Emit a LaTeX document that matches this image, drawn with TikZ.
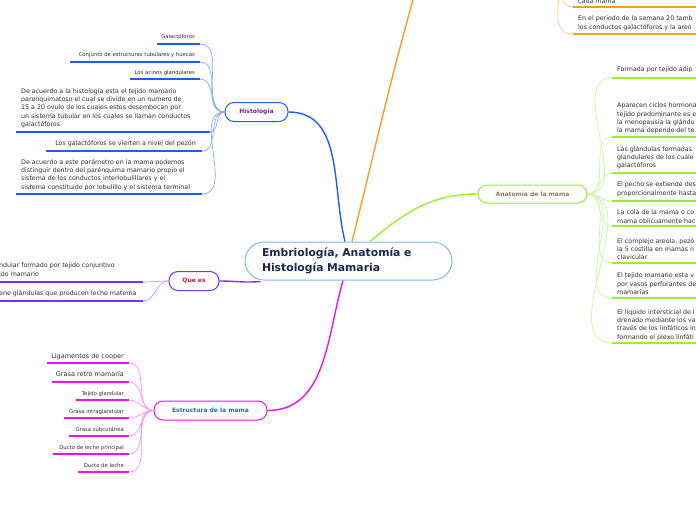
\documentclass[tikz,border=0pt]{standalone}
\usepackage{fontspec}
\setmainfont{DejaVu Sans}
\definecolor{hblue}{HTML}{1F5BFF}
\definecolor{hblueL}{HTML}{86A8FF}
\definecolor{qpur}{HTML}{7B2FFF}
\definecolor{qpurL}{HTML}{B996FF}
\definecolor{emag}{HTML}{EE11EE}
\definecolor{emagL}{HTML}{F590F5}
\definecolor{alime}{HTML}{99EE33}
\definecolor{alimeL}{HTML}{C8F7A0}
\definecolor{oor}{HTML}{FF9A22}
\definecolor{oorL}{HTML}{FFCB88}
\definecolor{cbord}{HTML}{7FBBE6}
\definecolor{ctext}{HTML}{1A2850}
\definecolor{leafc}{HTML}{2E2E2E}
\definecolor{histc}{HTML}{6A2A8F}
\definecolor{quec}{HTML}{CC1444}
\definecolor{estc}{HTML}{1A72B0}
\definecolor{anac}{HTML}{8F7A4E}
\tikzset{
 leaf/.style={inner sep=0pt, text=leafc, font=\fontsize{6.3}{8.3}\selectfont, align=left},
 leafb/.style={inner sep=0pt, text=leafc, font=\fontsize{6.5}{8}\selectfont},
 small/.style={inner sep=0pt, text=leafc, font=\fontsize{5.3}{6}\selectfont},
 topic/.style={draw, rounded corners=9pt, line width=1pt, fill=white, font=\fontsize{6}{7}\selectfont\bfseries, inner sep=0pt},
 ul/.style={line width=1.6pt},
 sub/.style={line width=0.7pt},
 mainc/.style={line width=1.4pt},
}
\begin{document}
\begin{tikzpicture}[x=1pt,y=-1pt]
\useasboundingbox (0,0) rectangle (696,520);
\clip (0,0) rectangle (696,520);

% ---------- central node
\node[draw=cbord, line width=1pt, fill=white, rounded corners=19pt, text width=173pt, inner xsep=17pt, inner ysep=0pt, minimum height=38pt, align=left, text=ctext, font=\fontsize{10.8}{15}\selectfont\bfseries] (c) at (348.5,261) {Embriología, Anatomía e\\Histología Mamaria};

% ---------- topic nodes
\node[topic, draw=hblue, text=histc, minimum width=63pt, minimum height=19pt] (hist) at (256.5,112) {Histología};
\node[topic, draw=qpur, text=quec, minimum width=50pt, minimum height=19pt] (que) at (194,281) {Que es};
\node[topic, draw=emag, text=estc, minimum width=113pt, minimum height=19pt] (est) at (210.5,410.5) {Estructura de la mama};
\node[topic, draw=alime, text=anac, minimum width=109pt, minimum height=18pt] (ana) at (532.5,194) {Anatomía de la mama};
\coordinate (orm) at (420,-25);
\coordinate (orp) at (560,-30);

% ---------- main connectors
\draw[mainc, hblue] ([xshift=-3.5pt]c.north) to[out=104,in=0] (hist.east);
\draw[mainc, oor] ([xshift=3.5pt]c.north) to[out=76,in=-106] (orm);
\draw[mainc, alime] ([xshift=21.5pt]c.north) to[out=40,in=180] (ana.west);
\draw[mainc, emag] ([xshift=-5.5pt]c.south) to[out=-106,in=0] (est.east);
\draw[mainc, qpur] ([xshift=-88pt,yshift=-1pt]c.south) to[out=185,in=0] (que.east);

% ---------- Histologia leaves
\node[small, anchor=base east] (h1t) at (195,38.7) {Galactóforos};
\coordinate (h1s) at (157,44); \coordinate (h1) at (200,44);
\node[small, anchor=base east] (h2t) at (195,56.7) {Conjunto de estructuras tubulares y huecas};
\coordinate (h2s) at (70,62); \coordinate (h2) at (200,62);
\node[small, anchor=base east] (h3t) at (195,74.7) {Los acinos glandúlares};
\coordinate (h3s) at (130,79); \coordinate (h3) at (200,79);
\node[leaf, anchor=north west] (h4t) at (21,88) {De acuerdo a la histología esta el tejido mamario\\parenquimatoso el cual se divide en un numero de\\15 a 20 ovulo de los cuales estos desembocan por\\un sistema tubular en los cuales se llaman conductos\\galactóforos};
\coordinate (h4s) at (16,132); \coordinate (h4) at (210,132);
\node[leaf, anchor=base east] (h5t) at (196,145.5) {Los galactóforos se vierten a nivel del pezón};
\coordinate (h5s) at (46,151); \coordinate (h5) at (202,151);
\node[leaf, anchor=north west] (h6t) at (21,159) {De acuerdo a este parámetro en la mama podemos\\distinguir dentro del parénquima mamario propio el\\sistema de los conductos interlobulillares y el\\sistema constituido por lobulillo y el sistema terminal};
\coordinate (h6s) at (16,194); \coordinate (h6) at (202,194);
\foreach \i in {1,...,6}{
  \draw[ul, hblue] (h\i s) -- (h\i);
  \draw[sub, hblueL] (hist.west) to[out=180,in=0] (h\i);
}

% ---------- Que es leaves
\node[leaf, anchor=north west] (q1t) at (-1,263) {ndular formado por tejido conjuntivo\\ido mamario};
\coordinate (q1s) at (0,282); \coordinate (q1) at (143,282);
\node[leaf, anchor=base west] (q2t) at (-1,295) {ene glándulas que producen leche materna};
\coordinate (q2s) at (0,301); \coordinate (q2) at (143,301);
\foreach \i in {1,2}{
  \draw[ul, qpur] (q\i s) -- (q\i);
  \draw[sub, qpurL] (que.west) to[out=180,in=0] (q\i);
}

% ---------- Estructura leaves
\node[leafb, anchor=base east] (e1t) at (124,358) {Ligamentos de cooper};
\coordinate (e1s) at (47,363); \coordinate (e1) at (129,363);
\node[leafb, anchor=base east] (e2t) at (124,376.5) {Grasa retro mamaría};
\coordinate (e2s) at (52,382); \coordinate (e2) at (129,382);
\node[small, anchor=base east] (e3t) at (124,395.5) {Tejido glandular};
\coordinate (e3s) at (76,400); \coordinate (e3) at (129,400);
\node[small, anchor=base east] (e4t) at (124,413.5) {Grasa intraglandular};
\coordinate (e4s) at (64,418); \coordinate (e4) at (129,418);
\node[small, anchor=base east] (e5t) at (124,431.5) {Grasa subcutánea};
\coordinate (e5s) at (69,436); \coordinate (e5) at (129,436);
\node[small, anchor=base east] (e6t) at (124,449.5) {Ducto de leche principal};
\coordinate (e6s) at (53,454); \coordinate (e6) at (129,454);
\node[small, anchor=base east] (e7t) at (124,467.5) {Ducto de leche};
\coordinate (e7s) at (78,472); \coordinate (e7) at (129,472);
\foreach \i in {1,...,7}{
  \draw[ul, emag] (e\i s) -- (e\i);
  \draw[sub, emagL] (est.west) to[out=180,in=0] (e\i);
}

% ---------- Anatomia leaves
\node[leaf, anchor=north west] (a1t) at (617,67) {Formada por tejido adip};
\coordinate (a1) at (612,78); \coordinate (a1e) at (700,78);
\node[leaf, anchor=north west] (a2t) at (617,103) {Aparecen ciclos hormona\\tejido predominante es e\\la menopausia la glándu\\la mama depende del te};
\coordinate (a2) at (612,137); \coordinate (a2e) at (700,137);
\node[leaf, anchor=north west] (a3t) at (617,146) {Las glándulas formadas\\glandulares de los cuale\\galactóforos};
\coordinate (a3) at (612,173); \coordinate (a3e) at (700,173);
\node[leaf, anchor=north west] (a4t) at (617,182) {El pecho se extiende des\\proporcionalmente hasta};
\coordinate (a4) at (612,201); \coordinate (a4e) at (700,201);
\node[leaf, anchor=north west] (a5t) at (617,210) {La cola de la mama o co\\mama oblicuamente hac};
\coordinate (a5) at (612,226); \coordinate (a5e) at (700,226);
\node[leaf, anchor=north west] (a6t) at (617,238) {El complejo areola, pezó\\la 5 costilla en mamas n\\clavicular};
\coordinate (a6) at (612,263); \coordinate (a6e) at (700,263);
\node[leaf, anchor=north west] (a7t) at (617,273) {El tejido mamario esta v\\por vasos perforantes de\\mamarias};
\coordinate (a7) at (612,298); \coordinate (a7e) at (700,298);
\node[leaf, anchor=north west] (a8t) at (617,309) {El líquido intersticial de l\\drenado mediante los va\\través de los linfáticos in\\formando el plexo linfáti};
\coordinate (a8) at (612,343); \coordinate (a8e) at (700,343);
\foreach \i in {1,...,8}{
  \draw[ul, alime] (a\i) -- (a\i e);
  \draw[sub, alimeL] (ana.east) to[out=0,in=180] (a\i);
}

% ---------- orange leaves
\node[leaf, anchor=base west] (o1t) at (578,3) {cada mama};
\coordinate (o1) at (573,7); \coordinate (o1e) at (700,7);
\node[leaf, anchor=north west] (o2t) at (578,16) {En el periodo de la semana 20 tamb\\los conductos galactóforos y la areo};
\coordinate (o2) at (573,34); \coordinate (o2e) at (700,34);
\foreach \i in {1,2}{
  \draw[ul, oor] (o\i) -- (o\i e);
  \draw[sub, oorL] (orp) to[out=-85,in=180] (o\i);
}
\end{tikzpicture}
\end{document}
